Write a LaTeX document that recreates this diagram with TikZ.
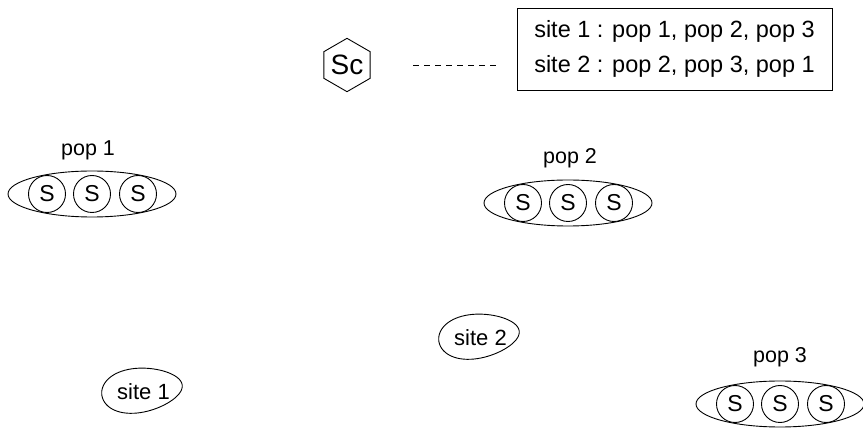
\documentclass[tikz,border=0pt]{standalone}
\usepackage{fontspec}
\setmainfont{Liberation Sans}
\usetikzlibrary{shapes.geometric}
\begin{document}
\begin{tikzpicture}[x=1pt,y=-1pt,
  every node/.style={font=\fontsize{21.5}{25}\selectfont, inner sep=0pt},
  popring/.style={draw, line width=0.9pt, ellipse, minimum width=168pt, minimum height=46pt},
  seed/.style={draw, line width=0.9pt, circle, minimum size=37pt, font=\fontsize{23}{27}\selectfont},
  sched/.style={draw, line width=0.9pt, regular polygon, regular polygon sides=6, shape border rotate=90, minimum size=51pt, font=\fontsize{28}{32}\selectfont},
  table/.style={draw, line width=0.9pt, minimum width=315pt, minimum height=82pt, align=left, inner sep=0pt, font=\fontsize{23.5}{28}\selectfont},
  blob/.style={draw, line width=0.9pt},
  sitelabel/.style={font=\fontsize{22}{26}\selectfont}
]
\useasboundingbox (0,0) rectangle (863,430);

% scheduler and its assignment table
\node[sched] (sc) at (347,65) {Sc};
\node[table] (tab) at (674.5,49) {site 1 : pop 1, pop 2, pop 3\\[7pt]site 2 : pop 2, pop 3, pop 1};
\coordinate (dl) at (413,65);
\coordinate (dr) at (500,65);
\draw[line width=0.7pt, dash pattern=on 6pt off 5pt] (dl) -- (dr);

% populations
\foreach \n/\x/\y in {1/92/194, 2/568/203, 3/780/404}{
  \node[popring] (pop\n) at (\x,\y) {};
  \node[seed] (s\n a) at (\x-45,\y) {S};
  \node[seed] (s\n b) at (\x,\y) {S};
  \node[seed] (s\n c) at (\x+46,\y) {S};
}
\node (l1) at (88,150) {pop 1};
\node (l2) at (570,158) {pop 2};
\node (l3) at (780,357) {pop 3};

% sites: egg-shaped outlines, broad end on the left
\foreach \n/\x/\y/\dx in {1/142/390/1.5, 2/479/336/1.5}{
  \draw[blob, shift={(\x,\y)}, rotate=7]
    plot[domain=0:360, samples=72, smooth cycle, variable=\t]
      ({40.5*cos(\t)}, {22*sin(\t)*(1-0.16*cos(\t))});
  \node[sitelabel] (site\n) at (\x+\dx,\y+2) {site \n};
}
\end{tikzpicture}
\end{document}
